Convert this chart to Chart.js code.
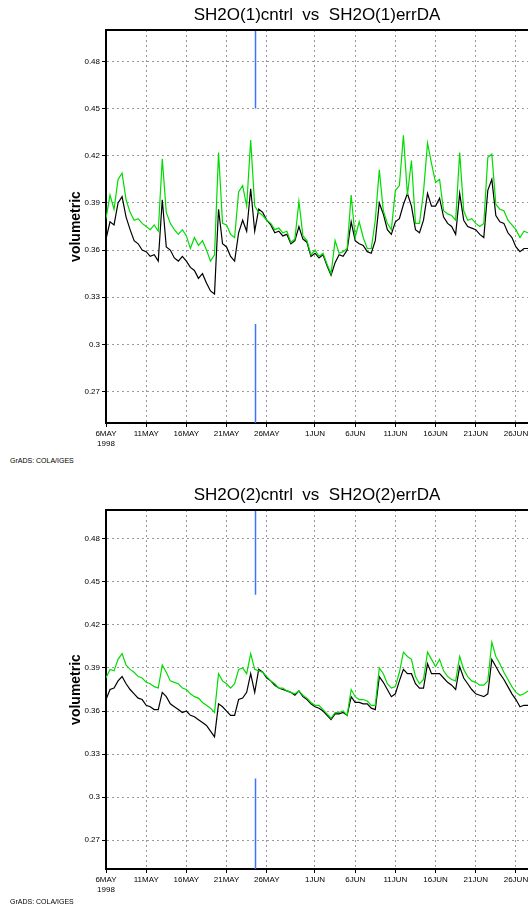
<!DOCTYPE html>
<html>
<head>
<meta charset="utf-8">
<script src="https://cdn.jsdelivr.net/npm/chart.js@4"></script>
<style>
  html, body { margin: 0; padding: 0; background: #fff; overflow: hidden; }
  body { width: 528px; height: 911px; position: relative; }
  .panel { position: absolute; left: 0; }
  .panel canvas { display: block; }
  .grads { position: absolute; left: 10px; font: 7px 'Liberation Sans Narrow', 'Liberation Sans', sans-serif; color: #000; }
</style>
</head>
<body>
<div class="panel" style="top:0"><canvas id="layer1" width="528" height="456"></canvas></div>
<div class="grads" style="top:457px">GrADS: COLA/IGES</div>
<div class="panel" style="top:480px"><canvas id="layer2" width="528" height="422"></canvas></div>
<div class="grads" style="top:898px">GrADS: COLA/IGES</div>
<script>
// days since 6 May 1998, half-daily output
const days = Array.from({length: 107}, (_, i) => i / 2);
const tickDays = [0, 5, 10, 15, 20, 26, 31, 36, 41, 46, 51];
const tickLabels = [['6MAY', '1998'], '11MAY', '16MAY', '21MAY', '26MAY', '1JUN', '6JUN', '11JUN', '16JUN', '21JUN', '26JUN'];
const yTicks = [0.27, 0.3, 0.33, 0.36, 0.39, 0.42, 0.45, 0.48];
const markDay = 18.6;

const errDA1 = [
  0.380, 0.395, 0.386, 0.405, 0.409, 0.392, 0.384, 0.379, 0.380, 0.377,
  0.375, 0.373, 0.376, 0.372, 0.418, 0.384, 0.377, 0.373, 0.370, 0.373,
  0.369, 0.361, 0.368, 0.363, 0.366, 0.360, 0.353, 0.357, 0.422, 0.377,
  0.376, 0.370, 0.368, 0.397, 0.401, 0.388, 0.430, 0.388, 0.384, 0.382,
  0.379, 0.377, 0.373, 0.374, 0.371, 0.372, 0.365, 0.367, 0.391, 0.369,
  0.366, 0.357, 0.360, 0.356, 0.358, 0.351, 0.345, 0.366, 0.358, 0.359,
  0.361, 0.395, 0.368, 0.378, 0.368, 0.361, 0.361, 0.379, 0.411, 0.385,
  0.377, 0.373, 0.398, 0.401, 0.433, 0.395, 0.417, 0.377, 0.377, 0.397,
  0.428, 0.415, 0.403, 0.405, 0.385, 0.383, 0.382, 0.379, 0.422, 0.385,
  0.379, 0.380, 0.377, 0.375, 0.377, 0.419, 0.421, 0.389, 0.386, 0.385,
  0.379, 0.376, 0.373, 0.368, 0.372, 0.371, 0.371
];
const cntrl1 = [
  0.367, 0.378, 0.376, 0.390, 0.394, 0.381, 0.373, 0.366, 0.364, 0.360,
  0.359, 0.356, 0.357, 0.353, 0.392, 0.362, 0.360, 0.355, 0.353, 0.356,
  0.353, 0.349, 0.347, 0.342, 0.345, 0.339, 0.334, 0.332, 0.386, 0.364,
  0.362, 0.356, 0.353, 0.371, 0.379, 0.372, 0.399, 0.372, 0.386, 0.384,
  0.379, 0.376, 0.371, 0.372, 0.369, 0.370, 0.364, 0.366, 0.375, 0.367,
  0.365, 0.356, 0.358, 0.355, 0.357, 0.350, 0.344, 0.352, 0.357, 0.356,
  0.360, 0.378, 0.366, 0.364, 0.363, 0.359, 0.358, 0.366, 0.390, 0.383,
  0.373, 0.370, 0.378, 0.380, 0.389, 0.396, 0.388, 0.373, 0.371, 0.379,
  0.396, 0.388, 0.388, 0.393, 0.381, 0.377, 0.375, 0.370, 0.396, 0.379,
  0.375, 0.374, 0.373, 0.370, 0.368, 0.398, 0.405, 0.382, 0.378, 0.377,
  0.371, 0.368, 0.362, 0.359, 0.361, 0.361, 0.362
];
const errDA2 = [
  0.383, 0.389, 0.388, 0.396, 0.400, 0.392, 0.389, 0.387, 0.384, 0.383,
  0.380, 0.379, 0.377, 0.376, 0.392, 0.387, 0.381, 0.380, 0.379, 0.376,
  0.375, 0.372, 0.370, 0.369, 0.366, 0.364, 0.362, 0.359, 0.386, 0.381,
  0.379, 0.376, 0.379, 0.389, 0.390, 0.386, 0.400, 0.389, 0.388, 0.387,
  0.384, 0.381, 0.379, 0.376, 0.376, 0.374, 0.373, 0.372, 0.374, 0.371,
  0.369, 0.366, 0.364, 0.364, 0.361, 0.358, 0.355, 0.359, 0.359, 0.360,
  0.357, 0.375, 0.370, 0.368, 0.368, 0.367, 0.364, 0.364, 0.390, 0.386,
  0.379, 0.376, 0.377, 0.387, 0.401, 0.398, 0.396, 0.384, 0.379, 0.382,
  0.401, 0.396, 0.391, 0.396, 0.388, 0.384, 0.382, 0.381, 0.398, 0.389,
  0.384, 0.381, 0.380, 0.378, 0.378, 0.381, 0.408, 0.398, 0.393, 0.387,
  0.382, 0.377, 0.373, 0.371, 0.372, 0.374, 0.374
];
const cntrl2 = [
  0.368, 0.375, 0.376, 0.381, 0.384, 0.379, 0.375, 0.372, 0.369, 0.368,
  0.364, 0.363, 0.361, 0.361, 0.373, 0.370, 0.365, 0.363, 0.361, 0.359,
  0.360, 0.357, 0.356, 0.354, 0.352, 0.350, 0.346, 0.342, 0.365, 0.363,
  0.360, 0.357, 0.357, 0.368, 0.369, 0.373, 0.386, 0.373, 0.389, 0.387,
  0.383, 0.381, 0.378, 0.376, 0.375, 0.374, 0.373, 0.371, 0.374, 0.370,
  0.368, 0.365, 0.363, 0.362, 0.360, 0.357, 0.354, 0.358, 0.358, 0.359,
  0.357, 0.370, 0.366, 0.366, 0.365, 0.365, 0.362, 0.361, 0.384, 0.380,
  0.375, 0.370, 0.372, 0.381, 0.389, 0.386, 0.386, 0.379, 0.376, 0.376,
  0.393, 0.386, 0.386, 0.386, 0.383, 0.380, 0.378, 0.375, 0.391, 0.383,
  0.379, 0.375, 0.372, 0.371, 0.370, 0.372, 0.396, 0.391, 0.386, 0.382,
  0.377, 0.372, 0.368, 0.363, 0.364, 0.364, 0.364
];
// visible pieces of the blue marker line
const mark1 = [[0.45, 0.5], [0.25, 0.313]];
const mark2 = [[0.441, 0.5], [0.25, 0.313]];

const narrow = "'Liberation Sans Narrow', 'Liberation Sans', Arial, sans-serif";

const frame = {
  id: 'frame',
  afterDraw(chart) {
    const {ctx, chartArea: a} = chart;
    ctx.save();
    ctx.strokeStyle = '#000';
    ctx.lineWidth = 2;
    ctx.beginPath();
    ctx.moveTo(a.left, a.top);
    ctx.lineTo(a.right, a.top);
    ctx.stroke();
    ctx.restore();
  }
};

function series(vals) {
  return vals.map((v, i) => ({x: days[i], y: v}));
}

function markLine(spans) {
  const pts = [];
  spans.forEach((s, i) => {
    if (i > 0) pts.push({x: markDay, y: null});
    pts.push({x: markDay, y: s[1]}, {x: markDay, y: s[0]});
  });
  return pts;
}

const grid = {color: '#999', lineWidth: 1, tickLength: 4, tickColor: '#000'};
const border = {color: '#000', width: 2, dash: [2, 3]};

function draw(id, title, cntrl, errDA, mark) {
  new Chart(document.getElementById(id), {
    type: 'line',
    data: {
      datasets: [
        {label: 'errDA', data: series(errDA), borderColor: 'rgb(0,220,0)', borderWidth: 1.2},
        {label: 'cntrl', data: series(cntrl), borderColor: '#000', borderWidth: 1.2},
        {label: 'mark', data: markLine(mark), borderColor: 'rgb(60,115,255)', borderWidth: 1.5, spanGaps: false}
      ]
    },
    options: {
      responsive: false,
      animation: false,
      devicePixelRatio: 1,
      events: [],
      elements: {point: {radius: 0}, line: {tension: 0, fill: false}},
      layout: {padding: 0},
      plugins: {
        legend: {display: false},
        tooltip: {enabled: false},
        title: {
          display: true, text: title, fullSize: false, color: '#000',
          font: {family: narrow, size: 17, weight: 'normal', lineHeight: 1.4},
          padding: {top: 3, bottom: 3.2}
        }
      },
      scales: {
        x: {
          type: 'linear', min: 0, max: 52.5,
          afterBuildTicks: s => { s.ticks = tickDays.map(v => ({value: v})); },
          afterFit: s => { s.height = 33; s.paddingLeft = 0; s.paddingRight = 0; },
          ticks: {
            autoSkip: false, maxRotation: 0, padding: 2, color: '#000',
            font: {family: narrow, size: 8},
            callback: v => tickLabels[tickDays.indexOf(v)]
          },
          grid: grid,
          border: border
        },
        y: {
          min: 0.25, max: 0.5,
          afterBuildTicks: s => { s.ticks = yTicks.map(v => ({value: v})); },
          afterFit: s => { s.width = 106; s.paddingTop = 0; s.paddingBottom = 0; },
          ticks: {padding: 2, color: '#000', font: {family: narrow, size: 8}, callback: v => String(v)},
          grid: grid,
          border: border,
          title: {
            display: true, text: 'volumetric', color: '#000',
            font: {family: "'Liberation Sans', Arial, sans-serif", size: 14, weight: 'bold'},
            padding: {top: 68}
          }
        }
      }
    },
    plugins: [frame]
  });
}

draw('layer1', 'SH2O(1)cntrl  vs  SH2O(1)errDA', cntrl1, errDA1, mark1);
draw('layer2', 'SH2O(2)cntrl  vs  SH2O(2)errDA', cntrl2, errDA2, mark2);
</script>
</body>
</html>
